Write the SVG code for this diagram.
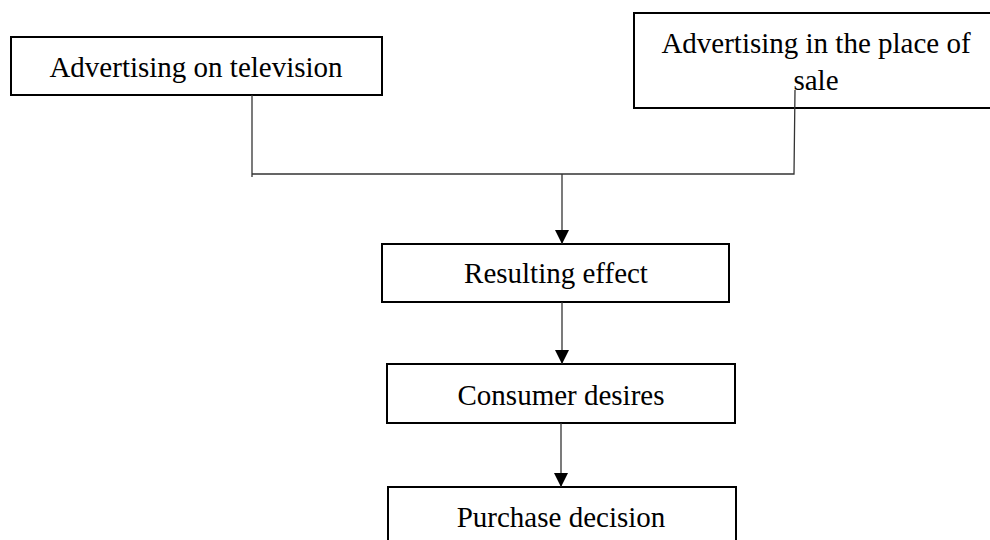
<svg xmlns="http://www.w3.org/2000/svg" width="990" height="540" viewBox="0 0 990 540">
<style>
.box{fill:#fff;stroke:#000;stroke-width:2}
.t{font-family:"Liberation Serif","Times New Roman",serif;font-size:29px;fill:#000;text-anchor:middle}
.ln{fill:none;stroke:#333;stroke-width:1.3}
</style>
<defs>
<marker id="ah" markerWidth="14" markerHeight="14" refX="14" refY="7" orient="auto" markerUnits="userSpaceOnUse" viewBox="0 0 14 14">
<path d="M0,0 L14,7 L0,14 Z" fill="#000"/>
</marker>
</defs>
<rect width="990" height="540" fill="#fff"/>
<g id="n1"><rect class="box" x="11" y="37" width="371" height="58"/><text class="t" x="196" y="77">Advertising on television</text></g>
<g id="n2"><rect class="box" x="634" y="13" width="370" height="95"/><text class="t" x="816" y="53">Advertising in the place of</text><text class="t" x="816" y="90">sale</text></g>
<g id="n3"><rect class="box" x="382" y="244" width="347" height="58"/><text class="t" x="556" y="283">Resulting effect</text></g>
<g id="n4"><rect class="box" x="387" y="364" width="348" height="59"/><text class="t" x="561" y="405">Consumer desires</text></g>
<g id="n5"><rect class="box" x="388" y="487" width="348" height="60"/><text class="t" x="561" y="527">Purchase decision</text></g>
<g id="connectors">
<polyline class="ln" points="252,95 252,177"/>
<polyline class="ln" points="252,174 794,174 795,90"/>
<line class="ln" x1="562" y1="174" x2="562" y2="244" marker-end="url(#ah)"/>
<line class="ln" x1="562" y1="302" x2="562" y2="364" marker-end="url(#ah)"/>
<line class="ln" x1="561" y1="423" x2="561" y2="487" marker-end="url(#ah)"/>
</g>
</svg>
